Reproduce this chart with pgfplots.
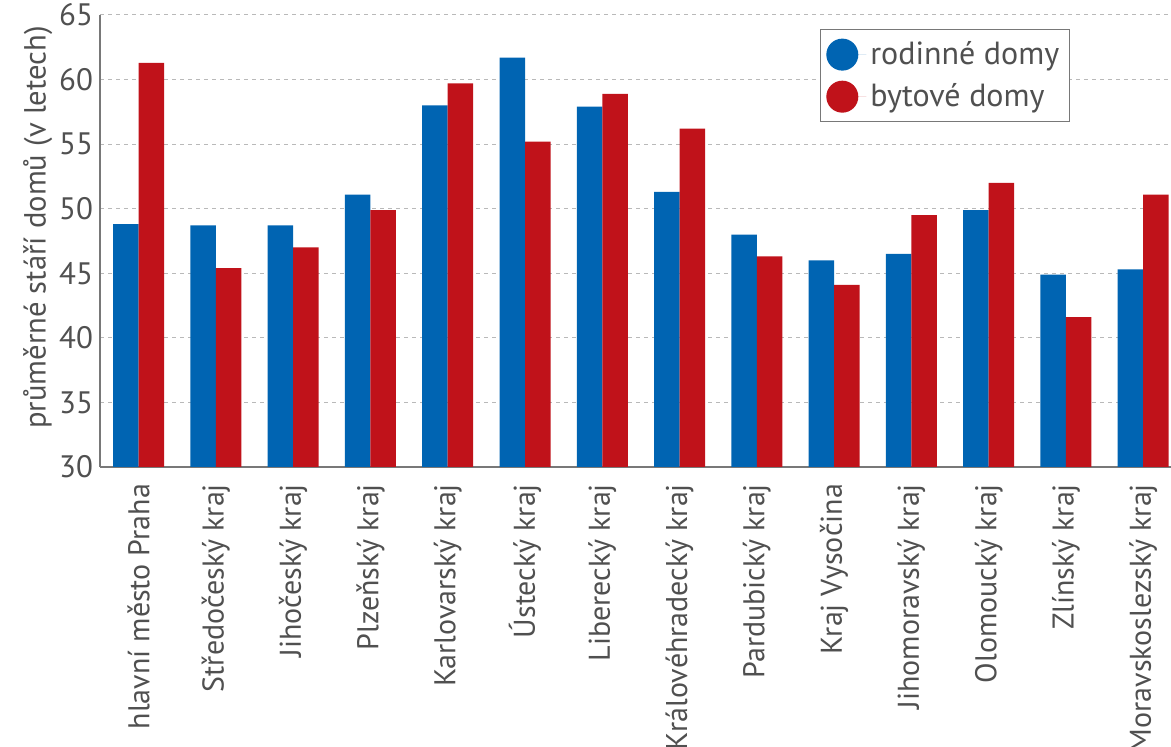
\documentclass[border=0pt]{standalone}
\usepackage{fontspec}
\setmainfont{PT Sans}
\usepackage{pgfplots}
\pgfplotsset{compat=1.18}
\definecolor{rodblue}{RGB}{0,100,178}
\definecolor{bytred}{RGB}{192,18,26}
\definecolor{txtgray}{RGB}{80,80,80}
\definecolor{axgray}{RGB}{120,120,120}

\begin{document}
\begin{tikzpicture}
\begin{axis}[
  name=ax,
  scale only axis,
  width=535.5pt, height=226pt,
  ymin=30, ymax=65,
  ytick={30,35,...,65},
  xmin=-0.5, xmax=13.36,
  xtick={0,...,13},
  xticklabels={hlavní město Praha, Středočeský kraj, Jihočeský kraj, Plzeňský kraj, Karlovarský kraj, Ústecký kraj, Liberecký kraj, Královéhradecký kraj, Pardubický kraj, Kraj Vysočina, Jihomoravský kraj, Olomoucký kraj, Zlínský kraj, Moravskoslezský kraj},
  x tick label style={rotate=90, anchor=east, font=\fontsize{15}{17}\selectfont, text=txtgray, xshift=-1pt},
  xticklabel shift=4pt,
  y tick label style={font=\fontsize{15.5}{17}\selectfont, text=txtgray},
  /pgf/number format/assume math mode=true,
  major tick length=0pt,
  axis x line*=bottom,
  axis y line*=left,
  axis line style={axgray, line width=0.8pt, -},
  ymajorgrids,
  grid style={dash pattern=on 2pt off 2pt, gray!55, line width=0.5pt},
  ylabel={průměrné stáří domů (v letech)},
  ylabel style={at={(axis description cs:-0.058,0.53)}, anchor=center, font=\fontsize{15.3}{17}\selectfont, text=txtgray},
  ybar, bar width=0.33,
  legend style={at={(axis description cs:0.672,0.969)}, anchor=north west, draw=axgray, line width=0.6pt,
    font=\fontsize{16}{18}\selectfont, text=txtgray, row sep=4pt, inner xsep=3pt, inner ysep=4pt},
  legend image code/.code={\fill[#1] (7pt,0) circle (8pt); \path (-1pt,0) -- (19pt,0);},
  legend cell align=left,
]
\addplot[fill=rodblue, draw=none, bar shift=-0.165]
  coordinates {(0,48.8) (1,48.7) (2,48.7) (3,51.1) (4,58.0) (5,61.7) (6,57.9) (7,51.3) (8,48.0) (9,46.0) (10,46.5) (11,49.9) (12,44.9) (13,45.3)};
\addplot[fill=bytred, draw=none, bar shift=0.165]
  coordinates {(0,61.3) (1,45.4) (2,47.0) (3,49.9) (4,59.7) (5,55.2) (6,58.9) (7,56.2) (8,46.3) (9,44.1) (10,49.5) (11,52.0) (12,41.6) (13,51.1)};
\legend{rodinné domy, bytové domy}
\end{axis}
\pgfresetboundingbox
\path[use as bounding box] ([xshift=-50pt,yshift=-140pt]ax.south west) rectangle ([yshift=7.5pt]ax.north east);
\end{tikzpicture}
\end{document}
